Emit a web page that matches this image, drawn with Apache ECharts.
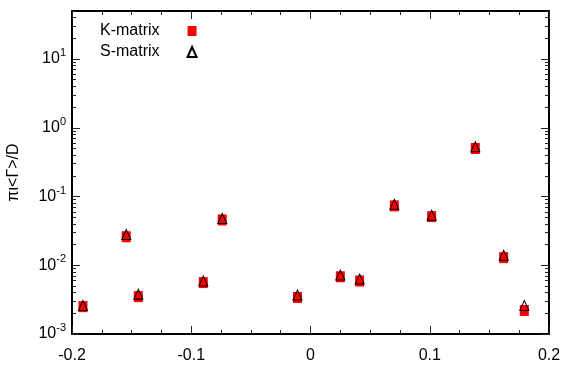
<!DOCTYPE html>
<html><head><meta charset="utf-8">
<script src="https://cdn.jsdelivr.net/npm/echarts@6/dist/echarts.min.js"></script>
<style>html,body{margin:0;padding:0;background:#fff}#c{width:577px;height:366px}</style>
</head><body><div id="c"></div>
<script>
// ---- data ----
const xValues = [-0.1908, -0.1545, -0.1444, -0.0899, -0.0740, -0.0109, 0.0250, 0.0412, 0.0703, 0.1016, 0.1382, 0.1620, 0.1793];
const kMatrix = [0.0025, 0.026, 0.0035, 0.0056, 0.0456, 0.0034, 0.0068, 0.0059, 0.073, 0.051, 0.50, 0.0129, 0.0022];
const sMatrix = [0.0026, 0.028, 0.0038, 0.0059, 0.048, 0.0037, 0.0072, 0.0063, 0.077, 0.0535, 0.53, 0.0140, 0.0026];
const seriesNames = ['K-matrix', 'S-matrix'];
const yMajorTicks = [0.001, 0.01, 0.1, 1, 10];
const yMinorMultipliers = [2, 3, 4, 5, 6, 7, 8, 9];
const yAxisTitle = 'πι<Γ>/D';

const yMinorTicks = [];
yMajorTicks.forEach(d => yMinorMultipliers.forEach(m => { const v = +(d * m).toPrecision(3); if (v <= 50) yMinorTicks.push(v); }));

const FONT = 'Liberation Sans, Arial, sans-serif';
const black = '#000';
const gridBox = { left: 72, right: 28, top: 11, bottom: 32, containLabel: false, outerBoundsMode: 'none' };

function supLabel(v) {
  const e = Math.round(Math.log10(v));
  return '{b|10}{s|' + e + '}';
}

function xAx(pos, grid, show) {
  return {
    type: 'value', gridIndex: grid, position: pos, min: -0.2, max: 0.2, interval: 0.1,
    show: show,
    axisLine: { show: true, onZero: false, lineStyle: { color: black, width: 2 } },
    axisTick: { show: true, inside: true, length: 8, lineStyle: { color: '#222', width: 1 } },
    minorTick: { show: true, splitNumber: 4, length: 4, lineStyle: { color: '#222', width: 1 } },
    axisLabel: { show: pos === 'bottom', fontSize: 16, color: black, fontFamily: FONT, margin: 14 },
    splitLine: { show: false }
  };
}

function yAx(pos, grid, major) {
  const a = {
    type: 'log', logBase: 10, gridIndex: grid, position: pos, min: 0.001, max: 50,
    axisLine: { show: major, onZero: false, lineStyle: { color: black, width: 2 } },
    axisTick: { show: true, inside: true, length: major ? 8 : 4,
      customValues: major ? yMajorTicks : yMinorTicks, lineStyle: { color: '#222', width: 1 } },
    axisLabel: { show: false },
    splitLine: { show: false },
    minorTick: { show: false }
  };
  if (major && pos === 'left') {
    a.axisLabel = {
      show: true, customValues: yMajorTicks, margin: 6, formatter: supLabel,
      rich: {
        b: { fontSize: 16, color: black, fontFamily: FONT, lineHeight: 23 },
        s: { fontSize: 11, color: black, fontFamily: FONT, verticalAlign: 'top', lineHeight: 12 }
      }
    };
    a.name = yAxisTitle;
    a.nameLocation = 'middle';
    a.nameRotate = 90;
    a.nameGap = 50;
    a.nameTextStyle = { fontSize: 16, color: black, fontFamily: FONT };
  }
  return a;
}

const chart = echarts.init(document.getElementById('c'), null, { renderer: 'canvas' });
chart.setOption({
  animation: false,
  backgroundColor: '#fff',
  grid: [Object.assign({}, gridBox), Object.assign({}, gridBox)],
  xAxis: [xAx('bottom', 0, true), xAx('top', 0, true),
          Object.assign(xAx('bottom', 1, false), { show: false })],
  yAxis: [yAx('left', 0, true), yAx('right', 0, true), yAx('left', 1, false), yAx('right', 1, false)],
  legend: {
    orient: 'vertical', left: 100, top: 23, align: 'right', itemGap: 5, padding: 0,
    itemWidth: 9, itemHeight: 10,
    textStyle: { fontSize: 16, color: black, fontFamily: FONT, lineHeight: 16, padding: [0, 23, 0, 0] },
    data: [{ name: seriesNames[0], icon: 'rect' }, { name: seriesNames[1], icon: 'triangle' }]
  },
  series: [
    {
      name: seriesNames[0], type: 'scatter', xAxisIndex: 0, yAxisIndex: 0,
      symbol: 'rect', symbolSize: [9, 11],
      itemStyle: { color: '#ff0000', opacity: 1 },
      data: xValues.map((x, i) => [x, kMatrix[i]])
    },
    {
      name: seriesNames[1], type: 'scatter', xAxisIndex: 0, yAxisIndex: 0,
      symbol: 'triangle', symbolSize: [9, 10],
      itemStyle: { color: 'rgba(0,0,0,0)', borderColor: black, borderWidth: 1, opacity: 1 },
      data: xValues.map((x, i) => [x, sMatrix[i]])
    }
  ]
});
</script></body></html>
